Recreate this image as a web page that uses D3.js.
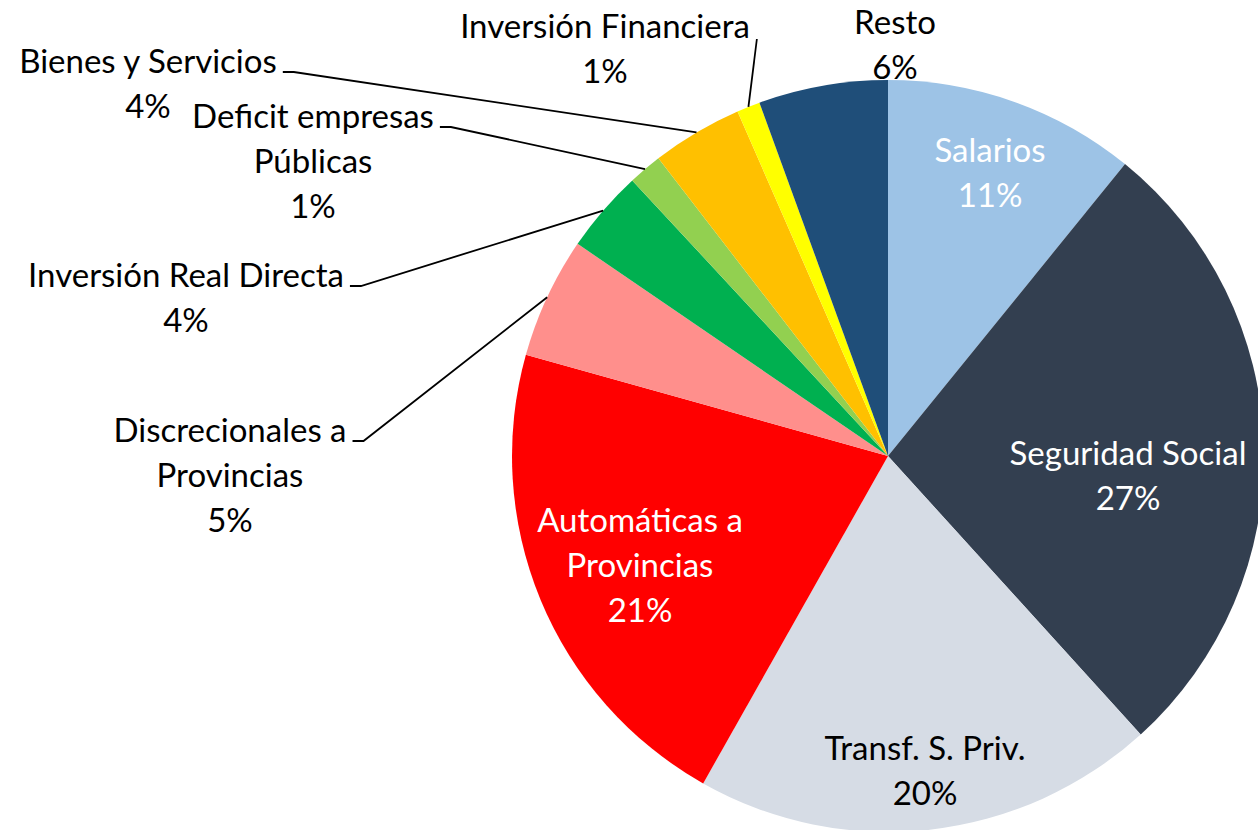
<!DOCTYPE html>
<html>
<head>
<meta charset="utf-8">
<script src="https://cdn.jsdelivr.net/npm/d3@7"></script>
<style>
  body { margin: 0; background: #fff; }
  svg { display: block; font-family: Lato, "Open Sans", sans-serif; }
</style>
</head>
<body>
<svg id="chart" width="1258" height="830"></svg>
<script>
// categories clockwise from 12 o'clock
var categories = ["Salarios", "Seguridad Social", "Transf. S. Priv.", "Automáticas a\nProvincias",
    "Discrecionales a\nProvincias", "Inversión Real Directa", "Deficit empresas\nPúblicas",
    "Bienes y Servicios", "Inversión Financiera", "Resto"];
var values = [10.85, 27.4, 19.9, 21.15, 5.2, 3.55, 1.45, 3.9, 1.0, 5.55];
var colors = ["#9DC3E6", "#333F50", "#D6DCE5", "#FF0000", "#FF8F8C", "#00B050", "#92D050", "#FFC000", "#FFFF00", "#1F4E79"];

// label layout: [centre x, first baseline, text colour, leader line?]
var labelLayout = [
    [990, 162, "#fff", false],
    [1128, 465, "#fff", false],
    [925, 760, "#000", false],
    [640, 532, "#fff", false],
    [230, 442, "#000", true],
    [186, 287, "#000", true],
    [313, 128, "#000", true],
    [148, 73, "#000", true],
    [605, 38, "#000", "direct"],
    [895, 34, "#000", false]
];

var width = 1258, height = 830;
var cx = 888, cy = 456, radius = 376;
var fontSize = 33, lineH = 45;

var svg = d3.select("#chart");
var total = d3.sum(values);

var data = categories.map(function (c, i) { return { name: c, value: values[i], i: i }; });

var pie = d3.pie()
    .value(function (d) { return d.value; })
    .sort(null);

var arc = d3.arc().innerRadius(0).outerRadius(radius);
var edge = d3.arc().innerRadius(radius).outerRadius(radius);

var g = svg.append("g").attr("transform", "translate(" + cx + "," + cy + ")");

var arcs = pie(data);

g.selectAll("path.slice")
    .data(arcs)
    .enter()
    .append("path")
    .attr("class", "slice")
    .attr("d", arc)
    .attr("fill", function (d) { return colors[d.data.i]; });

// labels
var labels = svg.append("g").attr("class", "labels");

arcs.forEach(function (d) {
    var lay = labelLayout[d.data.i];
    var lines = d.data.name.split("\n");
    lines.push(Math.round(d.data.value / total * 100) + "%");

    var t = labels.append("text")
        .attr("text-anchor", "middle")
        .attr("font-size", fontSize)
        .attr("fill", lay[2]);

    lines.forEach(function (l, k) {
        t.append("tspan")
            .attr("x", lay[0])
            .attr("y", lay[1] + k * lineH)
            .text(l);
    });

    if (lay[3]) {
        var first = t.select("tspan").node();
        var w = first.getComputedTextLength();
        var x0 = lay[0] + w / 2;
        var p = edge.centroid(d);
        var end = [cx + p[0], cy + p[1]];
        var pts;
        if (lay[3] === "direct") {
            pts = [[x0 + 7, lay[1] + 1], end];
        } else {
            pts = [[x0 + 6, lay[1] - 1], [x0 + 17, lay[1] - 1], end];
        }
        labels.append("path")
            .attr("d", d3.line()(pts))
            .attr("fill", "none")
            .attr("stroke", "#000")
            .attr("stroke-width", 1.8);
    }
});
</script>
</body>
</html>
